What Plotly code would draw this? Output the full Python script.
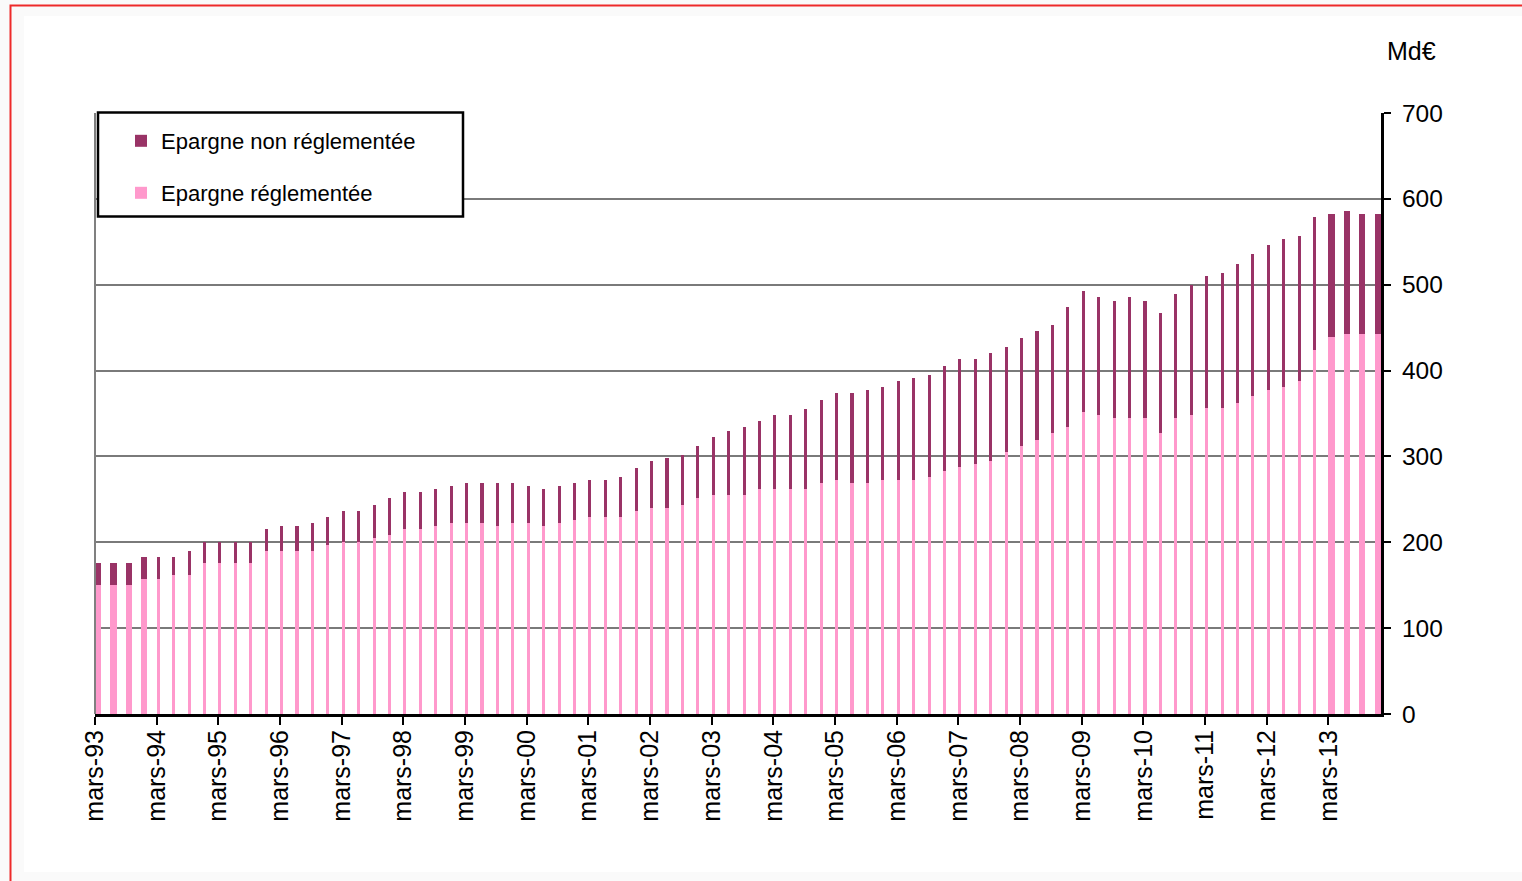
import plotly.graph_objects as go

# ---------------- data ----------------
years = ["93", "94", "95", "96", "97", "98", "99", "00", "01", "02", "03",
         "04", "05", "06", "07", "08", "09", "10", "11", "12", "13"]
months = ["mars", "juin", "sept", "déc"]
quarters = [f"{m}-{y}" for y in years for m in months]
tick_labels = [f"mars-{y}" for y in years]

# Epargne réglementée (Md€)
regl = [150.7, 150.7, 150.7, 157.7, 157.7, 161.6, 161.6, 176.0, 176.0, 176.0,
        176.0, 190.0, 190.0, 190.0, 190.0, 197.3, 200.8, 200.8, 204.7, 208.3,
        215.6, 215.6, 219.0, 222.6, 222.6, 222.6, 219.2, 222.6, 222.6, 219.1,
        222.6, 226.1, 229.6, 229.6, 229.6, 237.0, 240.5, 240.5, 244.0, 251.4,
        254.9, 254.9, 254.9, 262.2, 262.2, 262.2, 262.2, 269.2, 272.7, 269.2,
        269.2, 272.7, 272.7, 272.7, 276.2, 283.6, 287.5, 291.0, 294.7, 305.5,
        312.5, 319.7, 327.1, 334.5, 352.0, 348.5, 345.0, 345.0, 345.0, 327.1,
        345.0, 348.5, 355.9, 355.9, 362.8, 370.3, 377.6, 381.1, 388.1, 424.2,
        438.6, 442.1, 442.1, 442.1]

# Epargne non réglementée (Md€)
non_regl = [24.9, 24.9, 24.9, 25.3, 25.3, 21.4, 28.4, 24.8, 24.8, 24.8,
            24.8, 25.2, 28.7, 28.7, 32.2, 32.3, 36.2, 36.2, 39.3, 43.1,
            43.1, 43.1, 43.2, 43.1, 46.6, 46.6, 50.0, 46.3, 42.8, 42.8,
            42.8, 42.8, 43.1, 43.1, 46.6, 50.1, 53.6, 57.5, 57.5, 61.0,
            68.3, 75.3, 78.8, 78.9, 85.9, 85.9, 93.3, 97.1, 101.1, 104.6,
            108.1, 108.1, 115.3, 118.9, 118.9, 122.3, 125.9, 122.4, 125.7, 122.2,
            125.7, 125.9, 125.9, 139.9, 140.2, 136.7, 136.4, 140.2, 136.4, 140.3,
            143.7, 151.1, 154.4, 157.9, 161.7, 165.0, 168.6, 172.1, 168.6, 154.2,
            144.2, 143.8, 140.7, 140.7]

# ---------------- style ----------------
PINK = "#FF99CC"
PLUM = "#993366"
FONT = "Liberation Sans, Arial, sans-serif"
W, H = 1522, 881
ML, MR, MT, MB = 95, 141, 113, 167
PW, PH = W - ML - MR, H - MT - MB

def px_x(p):
    return (p - ML) / PW

def px_y(p):
    return (H - MB - p) / PH

# first and last four bars are drawn wider in the original chart
bar_w = [0.4 if (i < 4 or i >= len(quarters) - 4) else 0.2 for i in range(len(quarters))]

fig = go.Figure()
fig.add_trace(go.Bar(x=quarters, y=regl, name="Epargne réglementée",
                     marker=dict(color=PINK, line=dict(width=0)),
                     width=bar_w, offset=0, legend="legend2"))
fig.add_trace(go.Bar(x=quarters, y=non_regl, name="Epargne non réglementée",
                     marker=dict(color=PLUM, line=dict(width=0)),
                     width=bar_w, offset=0, legend="legend"))

shapes = [
    # white chart area on light frame
    dict(type="rect", xref="paper", yref="paper", layer="below",
         x0=px_x(24), x1=px_x(W + 20), y0=px_y(872), y1=px_y(16),
         fillcolor="white", line=dict(width=0)),
    # red outer border
    dict(type="rect", xref="paper", yref="paper", layer="below",
         x0=px_x(10.5), x1=px_x(W + 20), y0=px_y(H + 20), y1=px_y(5.5),
         fillcolor="rgba(0,0,0,0)", line=dict(color="#EE2A2A", width=2)),
    # gray left border of plot area
    dict(type="line", xref="paper", yref="paper", layer="above",
         x0=0, x1=0, y0=0, y1=1, line=dict(color="#808080", width=2)),
    # legend box
    dict(type="rect", xref="paper", yref="paper", layer="above",
         x0=px_x(98), x1=px_x(463), y0=px_y(216.5), y1=px_y(112.5),
         fillcolor="white", line=dict(color="black", width=2.5)),
]

fig.update_layout(
    width=W, height=H,
    margin=dict(l=ML, r=MR, t=MT, b=MB, pad=0),
    paper_bgcolor="#FAFAFA", plot_bgcolor="white",
    font=dict(family=FONT, color="black", size=22),
    barmode="stack", bargap=0,
    showlegend=True,
    legend=dict(x=px_x(121), y=px_y(141), xanchor="left", yanchor="middle",
                bgcolor="rgba(0,0,0,0)", borderwidth=0,
                font=dict(family=FONT, size=22, color="black")),
    legend2=dict(x=px_x(121), y=px_y(193), xanchor="left", yanchor="middle",
                 bgcolor="rgba(0,0,0,0)", borderwidth=0,
                 font=dict(family=FONT, size=22, color="black")),
    shapes=shapes,
    annotations=[dict(text="Md€", xref="paper", yref="paper",
                      x=px_x(1385), y=px_y(51), xanchor="left", yanchor="middle",
                      showarrow=False, font=dict(family=FONT, size=25, color="black"))],
    xaxis=dict(type="category", categoryorder="array", categoryarray=quarters,
               range=[0, 83.41], tickmode="array", tickvals=tick_labels,
               ticktext=tick_labels, tickangle=-90, ticks="outside", ticklen=8,
               tickwidth=2, tickcolor="black", showline=True, linecolor="black",
               linewidth=3, showgrid=False, zeroline=False, ticklabelstandoff=-5,
               tickfont=dict(family=FONT, size=25, color="black")),
    yaxis=dict(side="right", range=[0, 700], tickmode="linear", tick0=0, dtick=100,
               showgrid=True, gridcolor="#7A7A7A", gridwidth=2, zeroline=False,
               showline=True, linecolor="black", linewidth=3, ticks="outside",
               ticklen=7, tickwidth=2, tickcolor="black", ticklabelstandoff=6,
               tickfont=dict(family=FONT, size=24.5, color="black")),
)

fig.write_html("out.html", config={"displayModeBar": False},
               post_script="document.body.style.margin='0';document.body.style.overflow='hidden';")
